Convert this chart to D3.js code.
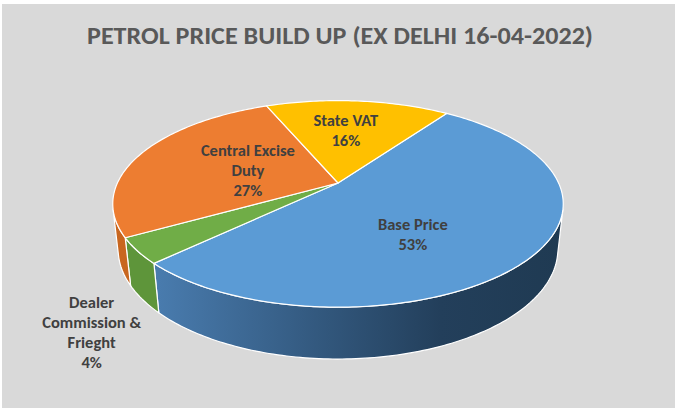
<!DOCTYPE html>
<meta charset="utf-8">
<script src="https://d3js.org/d3.v7.min.js"></script>
<style>
  body { margin: 0; background: #fff; }
  text { font-family: Carlito, Lato, "Open Sans", sans-serif; font-weight: bold; }
</style>
<div id="chart"></div>
<script>

// data, in Excel's plotting order (clockwise from the first slice angle)
var labels = [["Base Price"], ["Dealer", "Commission &", "Frieght"], ["Central Excise", "Duty"], ["State VAT"]];
var shares = [53, 4, 27, 16];
var topColors = ["#5b9bd5", "#70ad47", "#ed7d31", "#ffc000"];
var sideColors = ["url(#blueSide)", "#5e953a", "#c8661f", "#c79500"];

var W = 680, H = 412;
var title = "PETROL PRICE BUILD UP (EX DELHI 16-04-2022)";

// 3d view: camera distance, elevation, focal length, pie thickness
var cx0 = 338, cy0 = 183;
var D = 4.42, sinP = 0.449, cosP = Math.sqrt(1 - sinP * sinP), F = 975, depth = 0.231;
var rad = Math.PI / 180;

// a = angle clockwise from the back of the pie, r = radius, h = height
function proj(a, r, h) {
  var X = r * Math.sin(a), Y = r * Math.cos(a);
  var ry = Y + D * cosP, rz = h - D * sinP;
  var yc = ry * sinP + rz * cosP, zc = ry * cosP - rz * sinP;
  return [cx0 + F * X / zc, cy0 - F * yc / zc];
}

var svg = d3.select("#chart").append("svg")
  .attr("width", W).attr("height", H);

var defs = svg.append("defs");
var g1 = defs.append("linearGradient").attr("id", "blueSide")
  .attr("gradientUnits", "userSpaceOnUse")
  .attr("x1", 150).attr("x2", 565).attr("y1", 0).attr("y2", 0);
g1.append("stop").attr("offset", 0).attr("stop-color", "#4a7db0");
g1.append("stop").attr("offset", 0.4).attr("stop-color", "#33597f");
g1.append("stop").attr("offset", 0.7).attr("stop-color", "#233f5b");
g1.append("stop").attr("offset", 1).attr("stop-color", "#1f3a52");

// chart area
svg.append("rect").attr("x", 2).attr("y", 4).attr("width", 673).attr("height", 404)
  .attr("fill", "#d9d9d9");

svg.append("text").attr("x", 340).attr("y", 44)
  .attr("text-anchor", "middle").attr("font-size", 25).attr("fill", "#595959")
  .attr("textLength", 506).attr("lengthAdjust", "spacingAndGlyphs")
  .text(title);

var pie = d3.pie().sort(null).startAngle(35 * rad).endAngle(395 * rad);
var arcs = pie(shares);

// visible part of the outer wall faces the camera
var wallMin = Math.acos(-1 / (D * cosP)), wallMax = 2 * Math.PI - wallMin;

function arcPoints(a0, a1, h) {
  var n = Math.max(2, Math.ceil((a1 - a0) / (1 * rad)));
  return d3.range(n + 1).map(function(i) { return proj(a0 + (a1 - a0) * i / n, 1, h); });
}
var line = d3.line();

var walls = svg.append("g");
arcs.forEach(function(d, i) {
  var a0 = Math.max(d.startAngle, wallMin), a1 = Math.min(d.endAngle, wallMax);
  if (a1 <= a0) return;
  var pts = arcPoints(a0, a1, 0).concat(arcPoints(a0, a1, -depth).reverse());
  walls.append("path").attr("d", line(pts) + "Z")
    .attr("fill", sideColors[i]).attr("stroke", "#fff").attr("stroke-width", 1.2)
    .attr("stroke-linejoin", "round");
});

var tops = svg.append("g");
arcs.forEach(function(d, i) {
  var pts = [proj(0, 0, 0)].concat(arcPoints(d.startAngle, d.endAngle, 0));
  tops.append("path").attr("d", line(pts) + "Z")
    .attr("fill", topColors[i]).attr("stroke", "#fff").attr("stroke-width", 1.2)
    .attr("stroke-linejoin", "round");
});

// label placement: inside at half radius, outside next to the wall
var labelNudge = [[-15, 17], [-51, 32], [11, 2], [-3, -8]];
var lineH = 20;
arcs.forEach(function(d, i) {
  var mid = (d.startAngle + d.endAngle) / 2;
  var p = i === 1 ? proj(mid, 1, -depth) : proj(mid, 0.5, 0);
  var lines = labels[i].concat([shares[i] + "%"]);
  var x = p[0] + labelNudge[i][0], y = p[1] + labelNudge[i][1];
  var t = svg.append("text").attr("text-anchor", "middle")
    .attr("font-size", 16.5).attr("fill", "#404040");
  lines.forEach(function(s, k) {
    t.append("tspan").attr("x", x)
      .attr("y", y + (k - (lines.length - 1) / 2) * lineH + 6)
      .text(s);
  });
});

</script>
